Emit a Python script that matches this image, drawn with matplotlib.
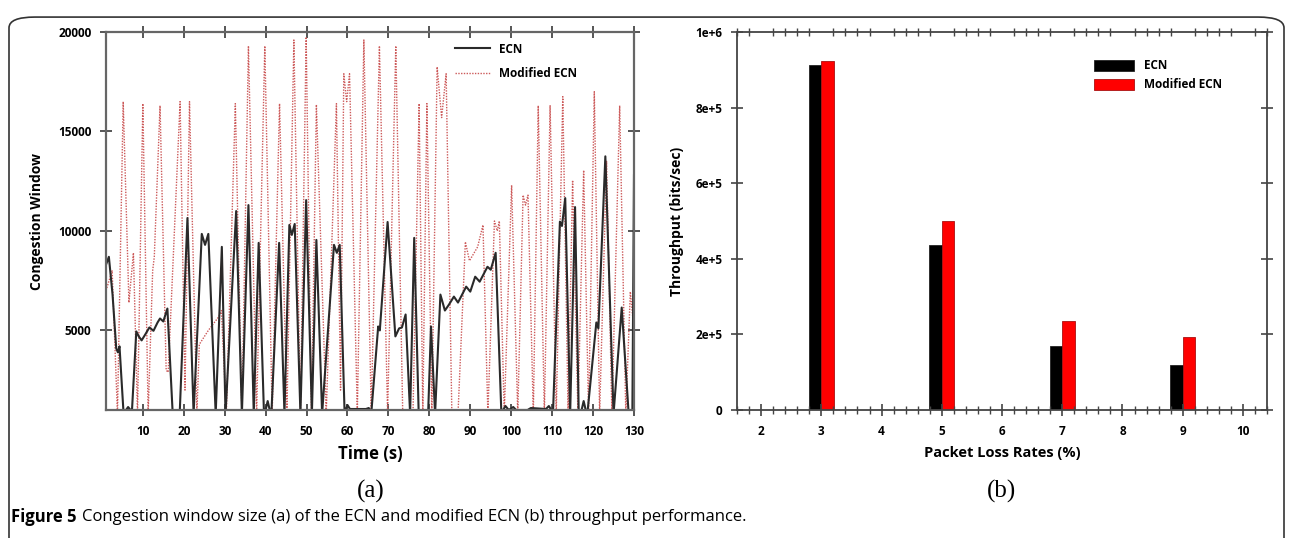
import matplotlib
matplotlib.use('Agg')
import matplotlib.pyplot as plt
from matplotlib.patches import FancyBboxPatch
from matplotlib.lines import Line2D
from matplotlib.ticker import MultipleLocator

plt.rcParams['font.family'] = ['Open Sans', 'DejaVu Sans']

# (a) congestion window
ecn_time = [1.0, 1.7, 2.6, 3.5, 3.9, 4.3, 5.3, 5.9, 6.4, 7.0, 7.3, 8.4, 9.0, 9.7,
            10.6, 11.6, 12.6, 13.6, 14.2, 15.0, 16.0, 17.3, 19.0, 20.9, 22.4,
            24.4, 25.2, 26.0, 27.8, 29.3, 30.2, 32.8, 34.2, 35.8, 37.1, 38.3,
            39.6, 40.0, 40.5, 41.0, 41.4, 43.3, 44.6, 45.8, 46.4, 47.1, 48.5,
            49.9, 51.3, 52.4, 53.8, 56.7, 57.4, 58.1, 59.3, 59.6, 60.0, 60.6,
            64.5, 65.2, 65.8, 67.5, 67.9, 69.8, 71.7, 72.6, 73.3, 74.2, 75.3,
            76.3, 77.4, 79.7, 80.4, 81.4, 82.7, 83.8, 84.8, 86.0, 87.0, 89.0,
            90.0, 91.2, 92.3, 94.2, 95.0, 96.2, 97.6, 98.0, 98.6, 99.4, 100.5,
            101.2, 104.0, 104.8, 108.5, 109.2, 109.8, 110.2, 111.9, 112.4,
            113.2, 114.4, 115.6, 116.5, 117.2, 117.7, 118.2, 118.6, 120.8,
            121.3, 123.0, 125.0, 127.0, 128.7, 129.6, 130.0]
ecn_cwnd = [8300, 8700, 6800, 4100, 3900, 4200, 800, 1000, 1150, 1000, 800, 4950,
            4700, 4500, 4800, 5150, 4980, 5400, 5600, 5450, 6100, 800, 800,
            10650, 800, 9850, 9300, 9850, 800, 9200, 800, 11000, 800, 11300,
            800, 9400, 800, 1000, 1450, 1000, 800, 9400, 800, 10300, 9800,
            10350, 800, 11550, 800, 9550, 800, 9300, 8900, 9300, 800, 1000,
            1250, 1050, 1050, 1100, 800, 5200, 5000, 10450, 4700, 5100, 5150,
            5800, 800, 9650, 800, 800, 5200, 800, 6800, 6000, 6300, 6700, 6400,
            7200, 6950, 7700, 7450, 8200, 8050, 8900, 800, 1000, 1200, 1000,
            1150, 1000, 1000, 1100, 1050, 1200, 1000, 800, 10470, 10250, 11650,
            800, 11200, 800, 1000, 1450, 1000, 800, 5400, 5100, 13750, 800,
            6150, 800, 800, 12800]

mod_time = [1.0, 2.5, 3.8, 5.2, 6.6, 7.7, 8.7, 10.0, 11.3, 12.4, 12.8, 14.2,
            15.7, 16.2, 19.1, 20.3, 21.4, 23.2, 23.8, 26.0, 28.6, 29.2, 30.4,
            32.6, 34.2, 35.8, 37.8, 39.8, 41.6, 43.4, 45.2, 46.9, 48.5, 49.9,
            51.2, 52.4, 54.8, 57.3, 58.3, 59.1, 59.8, 60.5, 62.4, 64.0, 65.8,
            67.8, 69.8, 71.8, 73.5, 76.0, 77.5, 78.4, 79.4, 80.6, 81.9, 83.0,
            84.1, 85.5, 87.0, 88.8, 89.8, 91.8, 93.1, 94.3, 95.9, 96.6, 97.1,
            98.3, 100.1, 101.6, 102.9, 103.5, 104.1, 105.4, 106.6, 108.1,
            109.5, 111.0, 112.6, 113.9, 115.0, 116.3, 117.7, 118.9, 120.3,
            121.6, 123.3, 124.6, 126.5, 128.0, 129.1, 130.0]
mod_cwnd = [7000, 8000, 800, 16500, 6400, 8900, 800, 16400, 800, 8000, 8700,
            16300, 3000, 2900, 16500, 2000, 16500, 800, 4300, 5000, 5700, 6000,
            800, 16400, 800, 19300, 800, 19300, 800, 16400, 800, 19600, 800,
            19750, 800, 16350, 800, 16400, 2000, 17900, 16500, 17900, 800,
            19600, 800, 19300, 800, 19300, 800, 800, 16400, 800, 16400, 800,
            18250, 15700, 17900, 800, 800, 9450, 8500, 9200, 10300, 800, 10500,
            10000, 10500, 800, 12300, 800, 11800, 11300, 11800, 800, 16300, 800,
            16300, 800, 16750, 800, 12550, 800, 13050, 800, 17000, 800, 13500,
            800, 16300, 800, 6950, 5000]

# (b) throughput
loss_rates = [3, 5, 7, 9]
ecn_tput = [9.14e5, 4.37e5, 1.69e5, 1.2e5]
mod_tput = [9.24e5, 5.0e5, 2.36e5, 1.92e5]

fig = plt.figure(figsize=(12.92, 5.38), dpi=100)

# frame around the figure
frame = FancyBboxPatch((9 / 1292, -0.05), 1275 / 1292, 1.035 - 9 / 538,
                       boxstyle='round,pad=0,rounding_size=0.02',
                       transform=fig.transFigure, fill=False,
                       edgecolor='#333333', linewidth=1.2)
fig.patches.append(frame)

# ---- (a)
ax1 = fig.add_axes([106 / 1292, 128 / 538, 528 / 1292, 378 / 538])
ax1.plot(mod_time, mod_cwnd, color='#cc5a5a', lw=1.0, ls=(0, (1, 1)),
         label='Modified ECN')
ax1.plot(ecn_time, ecn_cwnd, color='#2a2a2a', lw=1.5, label='ECN')
ax1.set_xlim(1, 130)
ax1.set_ylim(1000, 20000)
ax1.set_xticks(range(10, 131, 10))
ax1.set_yticks([5000, 10000, 15000, 20000])
for s in ax1.spines.values():
    s.set_color('#666666')
    s.set_linewidth(1.6)
ax1.tick_params(direction='inout', length=9, width=1.4, color='#555555',
                top=True, right=True, labelsize=8.5, pad=6)
for lab in ax1.get_xticklabels() + ax1.get_yticklabels():
    lab.set_fontweight('bold')
ax1.set_xlabel('Time (s)', fontsize=12, fontweight='bold', labelpad=5)
ax1.set_ylabel('Congestion Window', fontsize=10, fontweight='bold', labelpad=10)
handles = [Line2D([], [], color='#2a2a2a', lw=1.5),
           Line2D([], [], color='#cc5a5a', lw=1.0, ls=(0, (1, 1)))]
ax1.legend(handles, ['ECN', 'Modified ECN'], loc='upper left',
           bbox_to_anchor=(0.64, 1.0), frameon=False, handlelength=3.0,
           labelspacing=1.0, prop={'weight': 'bold', 'size': 8.5})

# ---- (b)
ax2 = fig.add_axes([737 / 1292, 128 / 538, 530 / 1292, 378 / 538])
w = 0.21
ax2.bar([x - w / 2 for x in loss_rates], ecn_tput, width=w, color='black',
        edgecolor='#222222', linewidth=0.6, label='ECN')
ax2.bar([x + w / 2 for x in loss_rates], mod_tput, width=w, color='#ff0000',
        edgecolor='#aa1010', linewidth=0.6, label='Modified ECN')
ax2.set_xlim(1.6, 10.4)
ax2.set_ylim(0, 1e6)
ax2.set_xticks(range(2, 11))
ax2.xaxis.set_minor_locator(MultipleLocator(0.2))
ax2.set_yticks([0, 2e5, 4e5, 6e5, 8e5, 1e6])
ax2.set_yticklabels(['0', '2e+5', '4e+5', '6e+5', '8e+5', '1e+6'])
for s in ax2.spines.values():
    s.set_color('#444444')
    s.set_linewidth(1.3)
ax2.tick_params(which='major', direction='inout', length=9, width=1.2,
                color='#444444', right=True, labelsize=8.5, pad=6)
ax2.tick_params(which='minor', direction='inout', length=6, width=1.0,
                color='#444444', top=True)
for lab in ax2.get_xticklabels() + ax2.get_yticklabels():
    lab.set_fontweight('bold')
ax2.set_xlabel('Packet Loss Rates (%)', fontsize=10.5, fontweight='bold',
               labelpad=6)
ax2.set_ylabel('Throughput (bits/sec)', fontsize=10, fontweight='bold',
               labelpad=8)
ax2.legend(loc='upper left', bbox_to_anchor=(0.665, 0.94), frameon=False,
           handlelength=3.4, handleheight=1.0, borderaxespad=0,
           prop={'weight': 'bold', 'size': 8.5})

# panel labels and caption
fig.text(371 / 1292, 1 - 491 / 538, '(a)', family='Liberation Serif',
         fontsize=18, ha='center', va='center')
fig.text(1002 / 1292, 1 - 491 / 538, '(b)', family='Liberation Serif',
         fontsize=18, ha='center', va='center')
cap1 = fig.text(11 / 1292, 1 - 517 / 538, 'Figure 5', fontsize=12,
                fontweight='bold', va='center')
fig.canvas.draw()
bb = cap1.get_window_extent()
fig.text((bb.x1 + 5) / 1292, 1 - 517 / 538,
         'Congestion window size (a) of the ECN and modified ECN (b) '
         'throughput performance.', fontsize=12, va='center')

fig.savefig('out.png', dpi=100)
